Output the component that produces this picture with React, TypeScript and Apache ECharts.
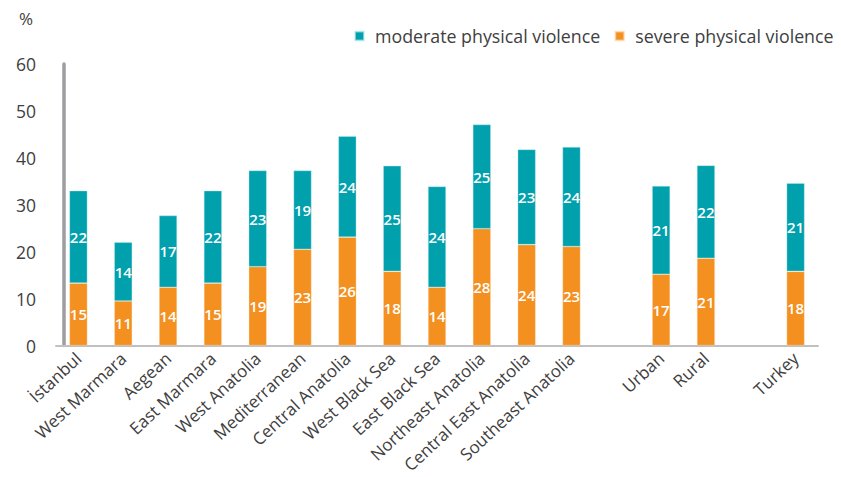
import React, { useEffect, useRef } from "react";
import * as echarts from "echarts";

const categories = [
  "İstanbul", "West Marmara", "Aegean", "East Marmara", "West Anatolia",
  "Mediterranean", "Central Anatolia", "West Black Sea", "East Black Sea",
  "Northeast Anatolia", "Central East Anatolia", "Southeast Anatolia",
  "", "Urban", "Rural", " ", "Turkey",
];

// bar heights as drawn in the reference
const severeHeights = [13.3, 9.5, 12.4, 13.3, 16.8, 20.5, 23.1, 15.8, 12.4, 24.9, 21.5, 21.1, "-", 15.2, 18.6, "-", 15.8];
const moderateHeights = [19.7, 12.5, 15.3, 19.7, 20.5, 16.8, 21.5, 22.5, 21.5, 22.2, 20.3, 21.2, "-", 18.8, 19.8, "-", 18.8];

// value labels printed on the bars
const severeLabels = [15, 11, 14, 15, 19, 23, 26, 18, 14, 28, 24, 23, null, 17, 21, null, 18];
const moderateLabels = [22, 14, 17, 22, 23, 19, 24, 25, 24, 25, 23, 24, null, 21, 22, null, 21];

const yTicks = { min: 0, max: 60, interval: 10 };

const FONT = "Open Sans";
const TEXT = "#404040";

export default function App() {
  const ref = useRef<HTMLDivElement>(null);
  useEffect(() => {
    if (!ref.current) return;
    const chart = echarts.init(ref.current, null, { renderer: "svg" });
    const labelStyle = (arr: (number | null)[]) => ({
      show: true,
      position: "inside",
      color: "#ffffff",
      fontSize: 15,
      fontWeight: 600,
      fontFamily: FONT,
      formatter: (p: any) => (arr[p.dataIndex] == null ? "" : String(arr[p.dataIndex])),
    });
    chart.setOption({
      animation: false,
      backgroundColor: "#ffffff",
      textStyle: { fontFamily: FONT },
      graphic: [
        { type: "text", left: 19, top: 10, style: { text: "%", fontSize: 17, fontFamily: FONT, fill: TEXT } },
      ],
      legend: {
        data: ["moderate physical violence", "severe physical violence"],
        left: 349,
        top: 22,
        width: 600,
        icon: "rect",
        itemWidth: 9,
        itemHeight: 9,
        itemGap: 14,
        textStyle: { fontSize: 17.8, color: TEXT, fontFamily: FONT, padding: [0, 0, 0, 6] },
      },
      grid: { left: 56, right: 23, top: 64, bottom: 131.5, containLabel: false, outerBoundsMode: "none" },
      xAxis: {
        type: "category",
        data: categories,
        axisLine: { show: true, lineStyle: { color: "#c0c0c0", width: 2 } },
        axisTick: { show: false },
        axisLabel: { interval: 0, rotate: 43, margin: 10, fontSize: 17, color: TEXT, fontFamily: FONT },
      },
      yAxis: {
        type: "value",
        min: yTicks.min,
        max: yTicks.max,
        interval: yTicks.interval,
        offset: -8,
        axisLine: { show: true, lineStyle: { color: "#9d9da2", width: 3.5 } },
        axisTick: { show: false },
        splitLine: { show: false },
        axisLabel: { margin: 28, fontSize: 17.5, color: TEXT, fontFamily: FONT },
      },
      series: [
        {
          name: "severe physical violence",
          type: "bar",
          stack: "total",
          barWidth: 18,
          data: severeHeights,
          itemStyle: { color: "#f39020", borderColor: "rgba(255,230,200,0.6)", borderWidth: 0.6 },
          label: labelStyle(severeLabels),
        },
        {
          name: "moderate physical violence",
          type: "bar",
          stack: "total",
          barWidth: 18,
          data: moderateHeights,
          itemStyle: { color: "#00a0ad", borderColor: "rgba(200,240,245,0.6)", borderWidth: 0.6 },
          label: labelStyle(moderateLabels),
        },
      ],
    });
    return () => chart.dispose();
  }, []);
  return <div ref={ref} style={{ position: "fixed", left: 0, top: 0, width: 841, height: 477 }} />;
}
